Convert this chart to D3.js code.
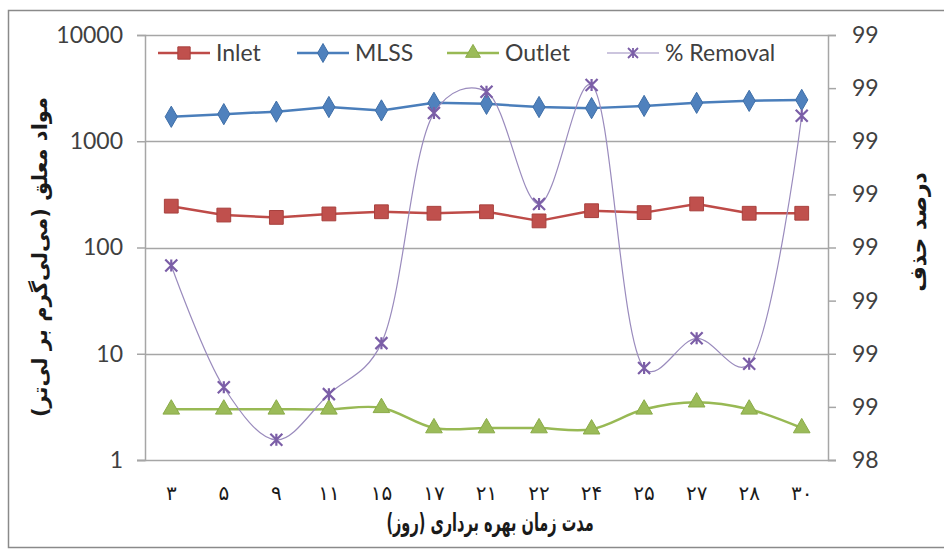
<!DOCTYPE html>
<html>
<head>
<meta charset="utf-8">
<script src="https://cdn.jsdelivr.net/npm/d3@7"></script>
<style>
  html, body { margin: 0; padding: 0; background: #fff; }
  svg { display: block; }
  .num { font-family: Lato, "Open Sans", sans-serif; fill: #404040; }
  .fa { font-family: "DejaVu Sans", sans-serif; fill: #1a1a1a; }
</style>
</head>
<body>
<svg id="chart" width="944" height="550"></svg>
<script>
// Sampling days (Persian digits) and measured series
const days = ['۳', '۵', '۹', '۱۱', '۱۵', '۱۷', '۲۱', '۲۲', '۲۴', '۲۵', '۲۷', '۲۸', '۳۰'];
const inlet = [245, 202, 192, 207, 217, 210, 217, 178, 222, 213, 257, 210, 210];
const mlss = [1700, 1800, 1900, 2100, 1950, 2300, 2250, 2100, 2050, 2150, 2300, 2400, 2450];
const outlet = [3, 3, 3, 3, 3.1, 2, 2, 2, 1.95, 3, 3.5, 3, 2];
const removal = [98.766, 98.537, 98.438, 98.524, 98.62, 99.053, 99.093, 98.882, 99.106, 98.573, 98.629, 98.581, 99.048];

// Axis ticks
const leftTickValues = [1, 10, 100, 1000, 10000];
const leftTickLabels = ['1', '10', '100', '1000', '10000'];
const rightTickValues = [98.4, 98.5, 98.6, 98.7, 98.8, 98.9, 99.0, 99.1, 99.2];
const rightTickLabels = ['98', '99', '99', '99', '99', '99', '99', '99', '99'];

const seriesNames = ['Inlet', 'MLSS', 'Outlet', '% Removal'];

const svg = d3.select('#chart');

const plot = { left: 145, right: 828, top: 35, bottom: 460 };

const x = d3.scaleBand().domain(days).range([plot.left, plot.right]);
const cx = d => x(d) + x.bandwidth() / 2;
const yL = d3.scaleLog().domain([1, 10000]).range([plot.bottom, plot.top]);
const yR = d3.scaleLinear().domain([98.4, 99.2]).range([plot.bottom, plot.top]);

// Chart frame
svg.append('rect')
  .attr('x', 8.5).attr('y', 10.5)
  .attr('width', 940).attr('height', 537)
  .attr('fill', '#fff').attr('stroke', '#8a8a8a').attr('stroke-width', 1.5);

// Horizontal gridlines at each decade
svg.append('g').selectAll('line')
  .data(leftTickValues.slice(1))
  .join('line')
  .attr('x1', plot.left).attr('x2', plot.right)
  .attr('y1', d => Math.round(yL(d)) + 0.5).attr('y2', d => Math.round(yL(d)) + 0.5)
  .attr('stroke', '#a6a6a6').attr('stroke-width', 1.5);

// Left axis (log)
const leftAxis = svg.append('g')
  .attr('transform', `translate(${plot.left},0)`)
  .call(d3.axisLeft(yL).tickValues(leftTickValues)
    .tickFormat((d, i) => leftTickLabels[i]).tickSize(8).tickPadding(14));
leftAxis.select('.domain').attr('stroke', '#a6a6a6').attr('stroke-width', 1.5);
leftAxis.selectAll('.tick line').attr('stroke', '#a6a6a6').attr('stroke-width', 1.5);
leftAxis.selectAll('.tick text').attr('class', 'num').style('font-size', '23px').attr('fill', '#404040');

// Right axis (removal %)
const rightAxis = svg.append('g')
  .attr('transform', `translate(${plot.right},0)`)
  .call(d3.axisRight(yR).tickValues(rightTickValues)
    .tickFormat((d, i) => rightTickLabels[i]).tickSize(8).tickPadding(16));
rightAxis.select('.domain').attr('stroke', '#a6a6a6').attr('stroke-width', 1.5);
rightAxis.selectAll('.tick line').attr('stroke', '#a6a6a6').attr('stroke-width', 1.5);
rightAxis.selectAll('.tick text').attr('class', 'num').style('font-size', '23px').attr('fill', '#404040');

// Bottom axis line and category labels
svg.append('line')
  .attr('x1', plot.left - 8).attr('x2', plot.right + 8)
  .attr('y1', plot.bottom + 0.5).attr('y2', plot.bottom + 0.5)
  .attr('stroke', '#a6a6a6').attr('stroke-width', 1.5);
svg.append('g').selectAll('text')
  .data(days)
  .join('text')
  .attr('class', 'fa')
  .attr('x', d => cx(d)).attr('y', 500)
  .attr('text-anchor', 'middle')
  .style('font-size', '20px')
  .attr('fill', '#333')
  .text(d => d);

// Axis titles (narrowed horizontally to suit the condensed title face)
svg.append('text')
  .attr('class', 'fa')
  .attr('transform', 'translate(490,531) scale(0.58,1)')
  .attr('text-anchor', 'middle')
  .attr('direction', 'rtl')
  .style('font-size', '25px').style('font-weight', 'bold')
  .text('مدت زمان بهره برداری (روز)');

svg.append('text')
  .attr('class', 'fa')
  .attr('transform', 'translate(47,257) rotate(-90)')
  .attr('text-anchor', 'middle')
  .attr('direction', 'rtl')
  .style('font-size', '21px').style('font-weight', 'bold')
  .text('مواد معلق (می‌لی‌گرم بر لی‌تر)');

svg.append('text')
  .attr('class', 'fa')
  .attr('transform', 'translate(926,232) rotate(-90)')
  .attr('text-anchor', 'middle')
  .attr('direction', 'rtl')
  .style('font-size', '22px').style('font-weight', 'bold')
  .text('درصد حذف');

// Series styles
const styles = {
  Inlet: { line: '#be4b48', fill: '#c0504d', stroke: '#a8413e', symbol: d3.symbolSquare, size: 190, width: 2.5 },
  MLSS: { line: '#4a7ebb', fill: '#4f81bd', stroke: '#3f6fa8', symbol: d3.symbolDiamond, size: 130, width: 2.5 },
  Outlet: { line: '#98b954', fill: '#9bbb59', stroke: '#8aab48', symbol: d3.symbolTriangle, size: 120, width: 2.5 },
  '% Removal': { line: '#9a8bbd', fill: 'none', stroke: '#7b5ea7', symbol: null, size: 0, width: 1.2 }
};

// Star marker (x with a vertical bar)
function starPath(r) {
  return `M${-r},${-r}L${r},${r}M${-r},${r}L${r},${-r}M0,${-r}L0,${r}`;
}

function drawSeries(values, yScale, name, curve) {
  const s = styles[name];
  const pts = values.map((v, i) => [cx(days[i]), yScale(v)]);
  svg.append('path')
    .attr('d', d3.line().curve(curve)(pts))
    .attr('fill', 'none')
    .attr('stroke', s.line)
    .attr('stroke-width', s.width)
    .attr('stroke-linejoin', 'round');
  const g = svg.append('g');
  if (s.symbol) {
    g.selectAll('path')
      .data(pts)
      .join('path')
      .attr('transform', p => `translate(${p[0]},${p[1]})`)
      .attr('d', d3.symbol().type(s.symbol).size(s.size))
      .attr('fill', s.fill)
      .attr('stroke', s.stroke)
      .attr('stroke-width', 1);
  } else {
    g.selectAll('path')
      .data(pts)
      .join('path')
      .attr('transform', p => `translate(${p[0]},${p[1]})`)
      .attr('d', starPath(6))
      .attr('fill', 'none')
      .attr('stroke', s.stroke)
      .attr('stroke-width', 2.2);
  }
}

drawSeries(inlet, yL, 'Inlet', d3.curveLinear);
drawSeries(mlss, yL, 'MLSS', d3.curveLinear);
drawSeries(outlet, yL, 'Outlet', d3.curveCatmullRom.alpha(0.3));
drawSeries(removal, yR, '% Removal', d3.curveCatmullRom.alpha(0.3));

// Legend
const legendX = [158, 297, 447, 607];
const legendY = 53;
const lg = svg.append('g');
seriesNames.forEach((name, i) => {
  const s = styles[name];
  const x0 = legendX[i];
  lg.append('line')
    .attr('x1', x0).attr('x2', x0 + 52)
    .attr('y1', legendY).attr('y2', legendY)
    .attr('stroke', s.line).attr('stroke-width', s.width);
  const mark = lg.append('path')
    .attr('transform', `translate(${x0 + 26},${legendY})`);
  if (s.symbol) {
    mark.attr('d', d3.symbol().type(s.symbol).size(s.size * 0.8))
      .attr('fill', s.fill).attr('stroke', s.stroke).attr('stroke-width', 1);
  } else {
    mark.attr('d', starPath(5)).attr('fill', 'none')
      .attr('stroke', s.stroke).attr('stroke-width', 1.8);
  }
  lg.append('text')
    .attr('class', 'num')
    .attr('x', x0 + 58).attr('y', legendY)
    .attr('dy', '0.35em')
    .style('font-size', '23px')
    .attr('fill', '#333')
    .text(name);
});
</script>
</body>
</html>
